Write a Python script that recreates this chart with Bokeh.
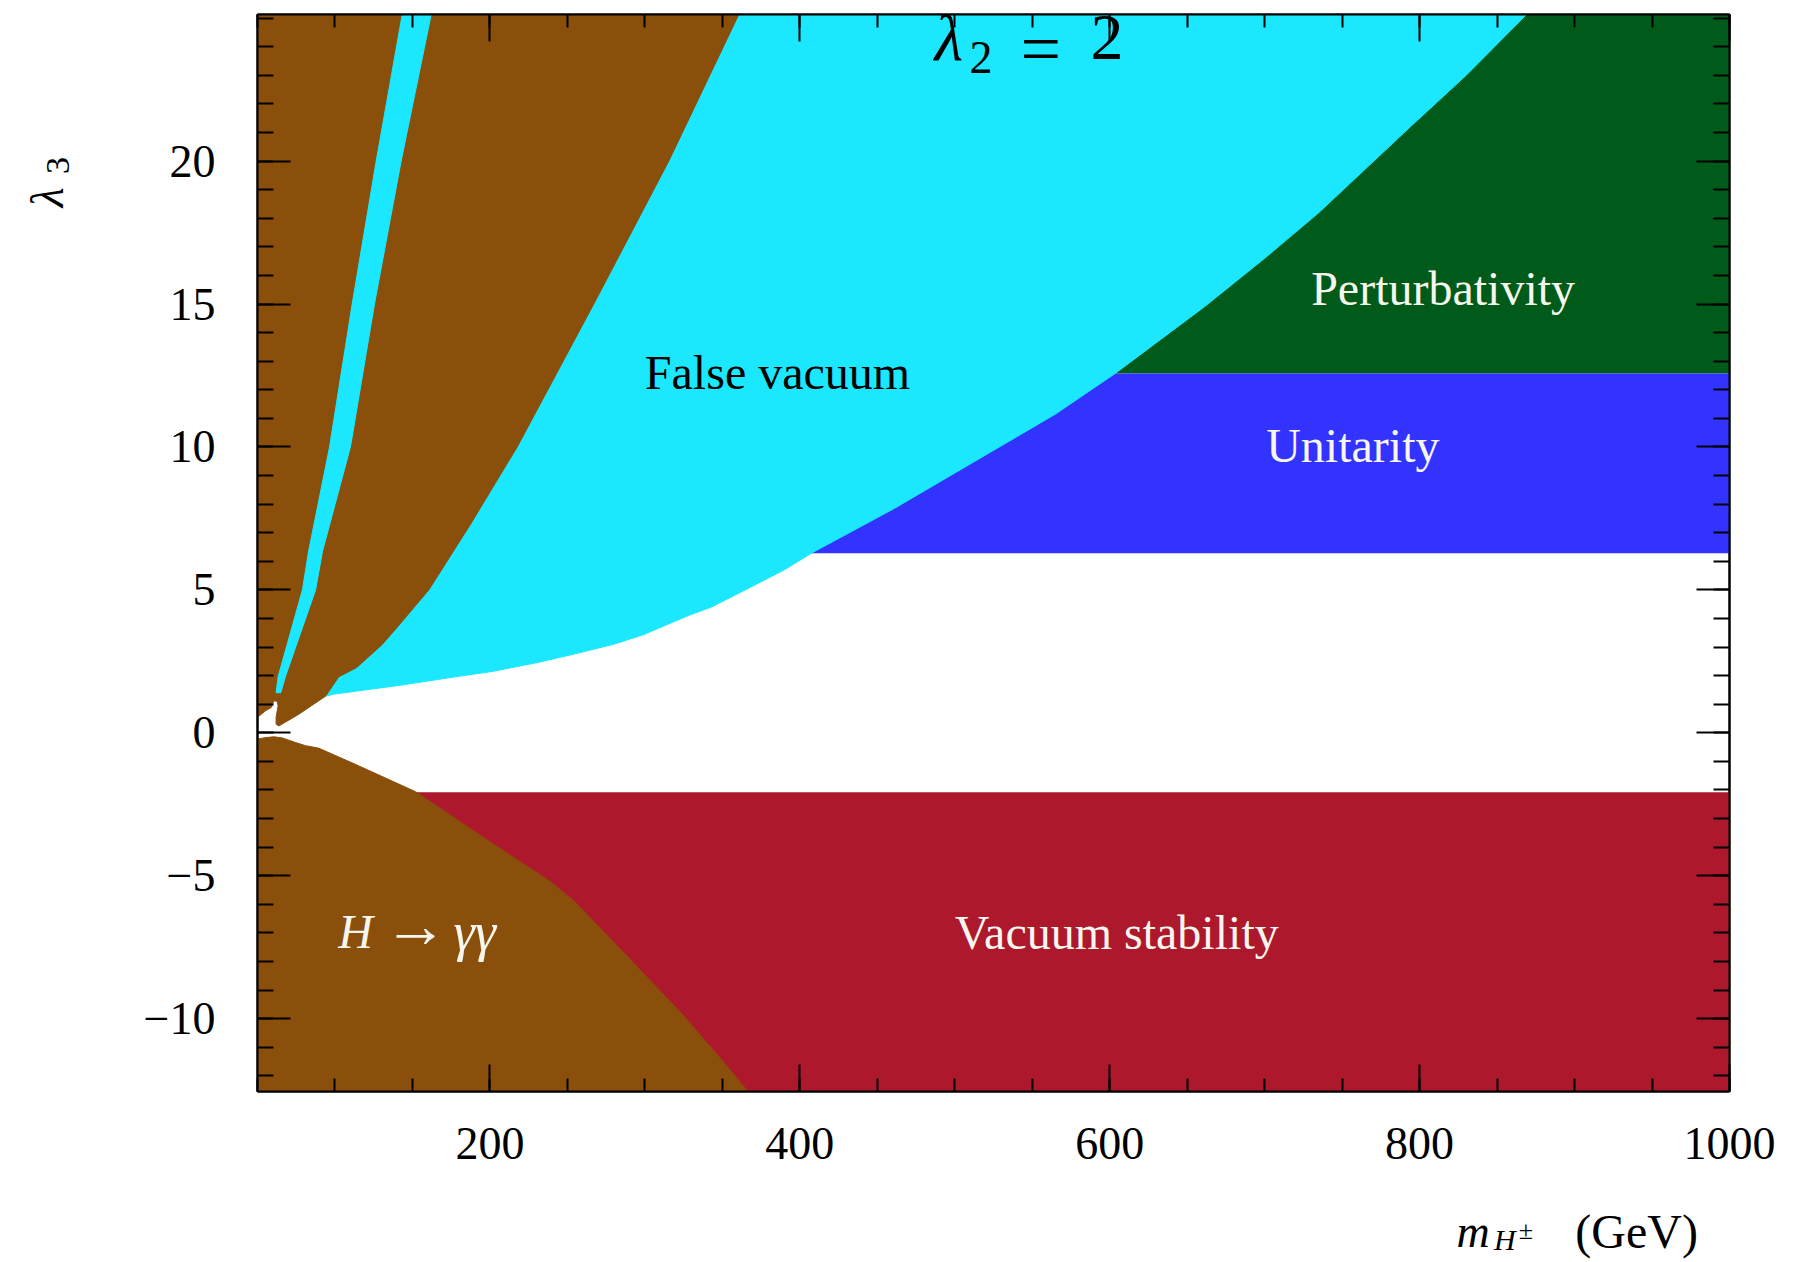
import math
from bokeh.plotting import figure
from bokeh.models import FixedTicker, LinearAxis, Label
from bokeh.embed import file_html
from bokeh.resources import INLINE

# ---- axes -------------------------------------------------------------
mass_range = (50, 1000)            # m_H± in GeV
lambda3_range = (-12.55, 25.13)
x_major = [200, 400, 600, 800, 1000]
x_tick_labels = ["200", "400", "600", "800", "1000"]
x_minor = list(range(50, 1001, 50))
y_major = [-10, -5, 0, 5, 10, 15, 20]
y_tick_labels = ["\u221210", "\u22125", "0", "5", "10", "15", "20"]
y_minor = list(range(-12, 26))

# ---- horizontal bounds on lambda_3 ----------------------------------------
perturbativity_bound = 12.57
unitarity_bound = 6.28
vacuum_stability_bound = -2.08

# ---- false-vacuum region: lambda_3 above this curve -----------------------
fv_mass = [92, 99, 143, 178, 202, 230, 254, 280, 299, 328, 343, 372, 390, 408,
           461, 513, 565, 603, 661, 700, 735, 794, 830, 869]
fv_lambda3 = [1.25, 1.35, 1.67, 1.96, 2.15, 2.45, 2.75, 3.1, 3.43, 4.1, 4.4, 5.2,
              5.7, 6.3, 7.85, 9.5, 11.15, 12.55, 14.9, 16.6, 18.2, 21.2, 23.0, 25.13]

# ---- H -> gamma gamma exclusion, upper part (right / lower edge) -----------
hgg_up_mass = [360.6, 315.4, 267.0, 217.6, 187.5, 160.6, 140.0, 130.5, 114.0,
               102.5, 93.9, 76.7, 63.8, 62.0, 62.0, 63.3, 62.7, 60.5, 59.0, 55.2,
               50.0]
hgg_up_lambda3 = [25.13, 20.0, 15.0, 10.0, 7.3, 5.0, 3.68, 3.09, 2.28, 1.96,
                  1.28, 0.65, 0.24, 0.30, 0.54, 0.94, 1.10, 1.12, 0.89, 0.77, 0.54]

# ---- H -> gamma gamma exclusion, lower part (upper edge) -------------------
hgg_low_mass = [50, 55, 60.5, 66, 74.5, 81, 89.6, 113, 152, 199, 238, 254, 285,
                324, 350, 366, 368]
hgg_low_lambda3 = [-0.22, -0.17, -0.14, -0.18, -0.34, -0.45, -0.54, -1.1, -2.06,
                   -3.78, -5.17, -5.87, -7.62, -9.84, -11.47, -12.52, -12.55]

# ---- narrow band allowed by H -> gamma gamma inside the excluded wedge -----
band_left_mass = [62.0, 63.3, 79.0, 83.0, 96.5, 111.1, 126.6, 143.4]
band_left_lambda3 = [1.4, 1.96, 5.0, 6.36, 10.0, 15.0, 20.0, 25.13]
band_right_mass = [162.1, 142.7, 125.5, 110.0, 92.0, 87.5, 68.0, 65.0]
band_right_lambda3 = [25.13, 20.0, 15.0, 10.0, 6.36, 5.0, 1.96, 1.4]

BROWN = "#8A4F0B"
CYAN = "#1BE8FF"
GREEN = "#005A19"
BLUE = "#3333FF"
RED = "#AD182C"
PALE = "#F6F6EE"
SERIF = "Liberation Serif"

x0, x1 = mass_range
y0, y1 = lambda3_range

p = figure(width=1797, height=1262, x_range=mass_range, y_range=lambda3_range,
           output_backend="svg", toolbar_location=None,
           min_border_left=257, min_border_right=68,
           min_border_top=14, min_border_bottom=171)
p.xgrid.visible = False
p.ygrid.visible = False
p.outline_line_color = "black"
p.outline_line_width = 2
p.background_fill_color = "white"

bottom_axis = p.below[0]
left_axis = p.left[0]

# horizontal bands: perturbativity, unitarity, vacuum stability
p.quad(left=[x0, x0, x0], right=[x1, x1, x1],
       bottom=[perturbativity_bound, unitarity_bound, y0],
       top=[y1, perturbativity_bound, vacuum_stability_bound],
       fill_color=[GREEN, BLUE, RED], line_color=None)

# false vacuum
p.patch([fv_mass[0]] + fv_mass, [y1] + fv_lambda3,
        fill_color=CYAN, line_color=CYAN, line_width=1)

# H -> gamma gamma excluded regions
p.patch([x0] + hgg_up_mass, [y1] + hgg_up_lambda3,
        fill_color=BROWN, line_color=BROWN, line_width=1)
p.patch([x0] + hgg_low_mass, [y0] + hgg_low_lambda3,
        fill_color=BROWN, line_color=BROWN, line_width=1)

# allowed band (false vacuum shows through)
p.patch(band_left_mass + band_right_mass, band_left_lambda3 + band_right_lambda3,
        fill_color=CYAN, line_color=CYAN, line_width=1)

# ---- axes on all four sides, ticks pointing inwards -----------------------
top_axis = LinearAxis()
right_axis = LinearAxis()
p.add_layout(top_axis, "above")
p.add_layout(right_axis, "right")

for ax in [bottom_axis, top_axis]:
    ax.ticker = FixedTicker(ticks=x_major, minor_ticks=x_minor)
    ax.major_tick_in = 27
    ax.minor_tick_in = 13
for ax in [left_axis, right_axis]:
    ax.ticker = FixedTicker(ticks=y_major, minor_ticks=y_minor)
    ax.major_tick_in = 33
    ax.minor_tick_in = 16

for ax in [bottom_axis, top_axis, left_axis, right_axis]:
    ax.major_tick_out = 0
    ax.minor_tick_out = 0
    ax.axis_line_color = "black"
    ax.axis_line_width = 2
    ax.major_tick_line_color = "black"
    ax.minor_tick_line_color = "black"
    ax.major_tick_line_width = 2
    ax.minor_tick_line_width = 2
    ax.major_label_text_font = SERIF
    ax.major_label_text_color = "black"

bottom_axis.major_label_overrides = dict(zip(x_major, x_tick_labels))
left_axis.major_label_overrides = dict(zip(y_major, y_tick_labels))
bottom_axis.major_label_text_font_size = "46px"
left_axis.major_label_text_font_size = "46px"
bottom_axis.major_label_standoff = 36
left_axis.major_label_standoff = 42

top_axis.major_label_overrides = {t: "" for t in x_major}
right_axis.major_label_overrides = {t: "" for t in y_major}
for ax in [top_axis, right_axis]:
    ax.major_label_text_font_size = "1px"
    ax.major_label_standoff = 0


def add_text(x, y, text, size, color="black", style="normal", align="left",
             angle=0.0, place="center"):
    p.add_layout(Label(x=x, y=y, text=text,
                       text_font=SERIF, text_font_size=size, text_color=color,
                       text_font_style=style, text_align=align,
                       text_baseline="alphabetic", angle=angle), place)


# title  λ2 = 2
add_text(486.9, 24.33, "\u03bb", "66px", style="italic")
add_text(509.5, 23.63, "2", "46px")
add_text(555.6, 23.93, "=", "72px", align="center")
add_text(598.2, 24.33, "2", "66px", align="center")

# region names
add_text(300, 12.61, "False vacuum", "48px")
add_text(730, 15.55, "Perturbativity", "48px", color=PALE)
add_text(701, 10.04, "Unitarity", "48px", color=PALE)
add_text(500, -6.99, "Vacuum stability", "48px", color=PALE)
add_text(102.1, -6.96, "H", "48px", color=PALE, style="italic")
add_text(152.0, -6.75, "\u2192", "64px", color=PALE, align="center")
add_text(176.5, -6.96, "\u03b3\u03b3", "54px", color=PALE, style="italic")

# axis titles, kept in the side panels so they are drawn outside the frame
add_text(823.8, -17.45, "m", "46px", style="italic", place="left")
add_text(848.0, -17.72, "H", "30px", style="italic", place="right")
add_text(864.0, -17.42, "\u00b1", "26px", place="right")
add_text(900.5, -17.45, "(GeV)", "48px", place="below")
add_text(-85.5, 18.39, "\u03bb", "46px", style="italic", angle=math.pi / 2,
         place="left")
add_text(-79.0, 19.55, "3", "34px", angle=math.pi / 2, place="left")

open("out.html", "w").write(file_html(p, INLINE))
